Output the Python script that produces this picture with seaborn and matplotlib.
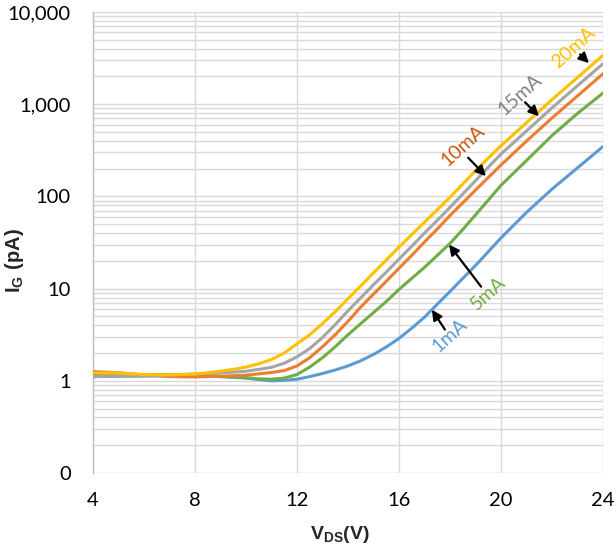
import numpy as np
import pandas as pd
import matplotlib
matplotlib.use("Agg")
import matplotlib.pyplot as plt
import matplotlib.ticker as mticker
import seaborn as sns

# Drain-source voltage (V)
vds = [4, 5, 6, 7, 8, 9, 9.5, 10, 10.5, 11, 11.5, 12, 12.5, 13, 13.5, 14, 14.5,
       15, 15.5, 16, 16.5, 17, 17.5, 18, 18.5, 19, 19.5, 20, 21, 22, 23, 24]

# Gate leakage current (pA) for each drain current
ig_1ma = [1.11, 1.12, 1.13, 1.13, 1.13, 1.11, 1.09, 1.07, 1.03, 1.00, 1.01, 1.04,
          1.11, 1.20, 1.31, 1.45, 1.65, 1.93, 2.33, 2.88, 3.72, 4.9, 6.76, 9.3,
          12.9, 17.8, 25.1, 35.5, 67, 120, 204, 347]
ig_5ma = [1.16, 1.17, 1.17, 1.16, 1.15, 1.12, 1.10, 1.08, 1.05, 1.04, 1.07, 1.17,
          1.41, 1.78, 2.34, 3.16, 4.17, 5.5, 7.24, 9.8, 12.9, 17, 22.9, 30.9,
          43.7, 63, 91, 132, 245, 457, 794, 1320]
ig_10ma = [1.26, 1.22, 1.16, 1.11, 1.10, 1.12, 1.135, 1.15, 1.19, 1.23, 1.29, 1.45,
           1.78, 2.34, 3.16, 4.42, 6.31, 8.71, 12.0, 16.6, 22.9, 32, 44.2, 62,
           85, 117, 160, 219, 398, 708, 1230, 2140]
ig_15ma = [1.11, 1.12, 1.13, 1.15, 1.19, 1.22, 1.24, 1.27, 1.33, 1.40, 1.55, 1.82,
           2.24, 2.95, 4.07, 5.75, 7.94, 11.0, 15.1, 20.9, 28.8, 40, 55, 76,
           106, 148, 207, 288, 513, 912, 1585, 2750]
ig_20ma = [1.22, 1.21, 1.17, 1.16, 1.18, 1.27, 1.33, 1.41, 1.53, 1.70, 2.0, 2.51,
           3.16, 4.17, 5.62, 7.76, 10.7, 14.8, 20.4, 28.2, 38.5, 52.5, 71.6, 98,
           136, 190, 260, 355, 630, 1120, 1950, 3390]

series_names = ["1mA", "5mA", "10mA", "15mA", "20mA"]
series_values = [ig_1ma, ig_5ma, ig_10ma, ig_15ma, ig_20ma]
line_colors = ["#5B9BD5", "#70AD47", "#ED7D31", "#A5A5A5", "#FFC000"]
label_colors = ["#5B9BD5", "#70AD47", "#C55A11", "#808080", "#FFC000"]

# Label text position, arrow tail and arrow tip (x, y) for each curve
label_pos = [(18.0, 3.1), (19.5, 8.8), (18.5, 355), (20.75, 1260), (22.85, 4100)]
arrow_tail = [(17.8, 3.6), (19.22, 10.5), (18.71, 263), (20.94, 1050), (23.1, 3470)]
arrow_tip = [(17.29, 5.9), (17.96, 30), (19.41, 166), (21.49, 741), (23.45, 2790)]

y_ticks = [0.1, 1, 10, 100, 1000, 10000]
y_tick_labels = ["0", "1", "10", "100", "1,000", "10,000"]
x_ticks = [4, 8, 12, 16, 20, 24]

df = pd.DataFrame({
    "VDS": np.tile(vds, len(series_names)),
    "IG": np.concatenate(series_values),
    "Id": np.repeat(series_names, len(vds)),
})

sns.set_theme(style="white")
plt.rcParams["font.family"] = ["Lato", "DejaVu Sans"]
plt.rcParams["mathtext.fontset"] = "custom"
plt.rcParams["mathtext.rm"] = "Liberation Sans"
plt.rcParams["mathtext.bf"] = "Liberation Sans:bold"

fig = plt.figure(figsize=(6.16, 5.46), dpi=100)
ax = fig.add_axes([93 / 616, 1 - 473 / 546, 510 / 616, 461 / 546])

sns.lineplot(data=df, x="VDS", y="IG", hue="Id", hue_order=series_names,
             palette=dict(zip(series_names, line_colors)), linewidth=2.2,
             legend=False, ax=ax, zorder=3)

ax.set_yscale("log")
ax.set_xlim(4, 24)
ax.set_ylim(0.1, 10000)
ax.set_xticks(x_ticks)
ax.set_xticklabels([str(v) for v in x_ticks])
ax.set_yticks(y_ticks)
ax.set_yticklabels(y_tick_labels)
ax.yaxis.set_minor_locator(mticker.LogLocator(base=10, subs=np.arange(2, 10), numticks=20))
ax.yaxis.set_minor_formatter(mticker.NullFormatter())

grid_color = "#D9D9D9"
ax.grid(True, which="major", axis="both", color=grid_color, linewidth=1.0, zorder=0)
ax.grid(True, which="minor", axis="y", color=grid_color, linewidth=1.0, zorder=0)
ax.set_axisbelow(True)
for side in ["top", "right", "bottom"]:
    ax.spines[side].set_visible(False)
ax.spines["left"].set_color("#BFBFBF")
ax.spines["left"].set_linewidth(1.0)

ax.tick_params(axis="both", which="both", length=0, labelsize=14.5, colors="#000000")
ax.tick_params(axis="y", pad=16)
ax.tick_params(axis="x", pad=14)

ax.set_xlabel(r"$\mathbf{V_{DS}(V)}$", fontsize=14)
ax.set_ylabel(r"$\mathbf{I_G\ (pA)}$", fontsize=14.5)
ax.xaxis.set_label_coords(0.484, -0.111)
ax.yaxis.set_label_coords(-0.132, 0.462)

for name, col, pos, tail, tip in zip(series_names, label_colors, label_pos, arrow_tail, arrow_tip):
    ax.text(pos[0], pos[1], name, color=col, fontsize=14, rotation=42,
            ha="center", va="center", zorder=5)
    ax.annotate("", xy=tip, xytext=tail,
                arrowprops=dict(arrowstyle="-|>", color="black", lw=1.6,
                                mutation_scale=15, shrinkA=0, shrinkB=0),
                zorder=6)

fig.savefig("out.png", dpi=100)
